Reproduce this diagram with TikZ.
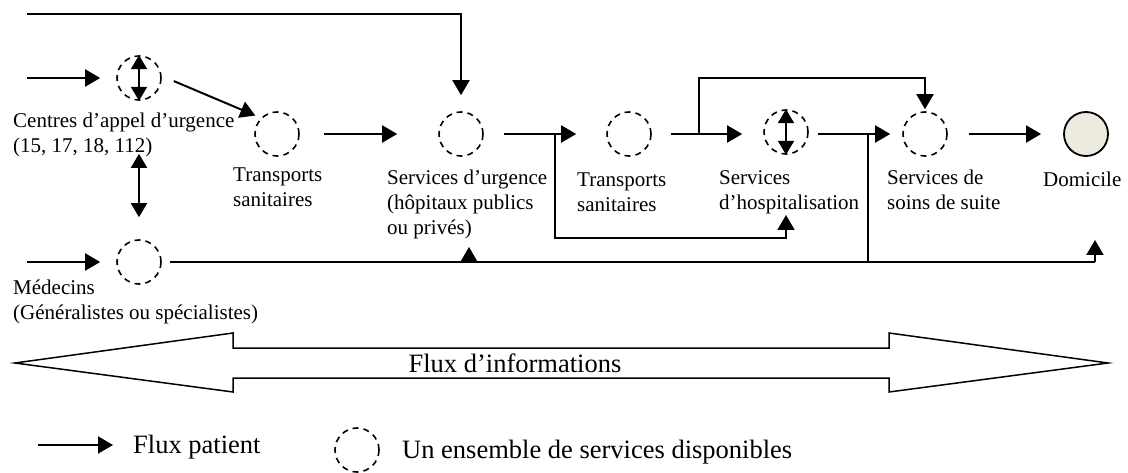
\documentclass[tikz,border=0pt]{standalone}
\usepackage{fontspec}
\setmainfont{Liberation Serif}
\usetikzlibrary{arrows.meta}

\definecolor{domfill}{RGB}{237,234,224}
\newcommand{\lblfont}{\fontsize{21}{25}\selectfont}
\newcommand{\bigfont}{\fontsize{26.5}{32}\selectfont}

\tikzset{
  svc/.style={circle, draw, line width=1.6pt, dash pattern=on 6pt off 5pt, minimum size=44pt, inner sep=0pt},
  home/.style={circle, draw, line width=1.8pt, fill=domfill, minimum size=44pt, inner sep=0pt},
  lien/.style={line width=2pt},
  flux/.style={lien, -{Triangle[length=15pt,width=17pt]}},
  dflux/.style={lien, {Triangle[length=14pt,width=16pt]}-{Triangle[length=14pt,width=16pt]}},
  lbl/.style={anchor=north west, align=left, inner sep=0pt, font=\lblfont}
}

\begin{document}
\begin{tikzpicture}[x=1pt,y=-1pt]
  \useasboundingbox (0,0) rectangle (1128,473);

  % services
  \node[svc] (c1) at (139,78) {};
  \node[svc] (c2) at (277,134) {};
  \node[svc] (c3) at (461,134) {};
  \node[svc] (c4) at (629,134) {};
  \node[svc] (c5) at (786,132) {};
  \node[svc] (c6) at (925,134) {};
  \node[home] (dom) at (1086,134) {};
  \node[svc] (c7) at (139,262) {};

  % labels
  \node[lbl] (l1) at (13,113) {Centres d'appel d'urgence\\(15, 17, 18, 112)};
  \node[lbl] (l2) at (233,168) {Transports\\sanitaires};
  \node[lbl] (l3) at (387,170) {Services d'urgence\\(hôpitaux publics\\ou privés)};
  \node[lbl] (l4) at (577,173) {Transports\\sanitaires};
  \node[lbl] (l5) at (719,170) {Services\\d'hospitalisation};
  \node[lbl] (l6) at (887,170) {Services de\\soins de suite};
  \node[lbl] (l7) at (1043,172) {Domicile};
  \node[lbl] (l8) at (13,280) {Médecins\\(Généralistes ou spécialistes)};

  % points libres
  \coordinate (in1) at (27,14);
  \coordinate (in2) at (27,78);
  \coordinate (in3) at (27,262);
  \coordinate (j1) at (555,134);
  \coordinate (b1) at (555,238);
  \coordinate (hosp) at (786,215);
  \coordinate (j2) at (699,134);
  \coordinate (t2) at (699,78);
  \coordinate (j3) at (868,134);
  \coordinate (bot1) at (469,262);
  \coordinate (bot2) at (1095,262);

  % flux patient
  \draw[flux, shorten >=16pt] (in1) -| (c3.north);
  \draw[flux, shorten >=16pt] (in2) -- (c1);
  \draw[dflux] (c1.north) -- (c1.south);
  \draw[flux, shorten <=13pt, shorten >=6pt] ([yshift=2pt]c1.east) -- (c2.135);
  \draw[dflux, shorten <=53pt, shorten >=22pt] (c1.south) -- (c7.north);
  \draw[flux, shorten >=16pt] (in3) -- (c7);
  \draw[flux, shorten <=24pt, shorten >=41pt] (c2) -- (c3);
  \draw[flux, shorten <=20pt, shorten >=30pt] (c3) -- (c4);
  \draw[flux] (j1) -- (b1) -| (hosp);
  \draw[flux, shorten <=19pt, shorten >=21pt] (c4) -- (c5.west |- c4);
  \draw[flux, shorten >=2pt] (j2) -- (t2) -| (c6.north);
  \draw[dflux] (c5.north) -- (c5.south);
  \draw[flux, shorten <=9pt, shorten >=12pt] (c5.east |- c6) -- (c6);
  \draw[flux, shorten <=21pt, shorten >=22pt] (c6) -- (dom);

  % ligne des medecins
  \draw[lien, shorten <=8pt] (c7) -- (bot2);
  \draw[lien] (j3) -- (j3 |- bot2);
  \draw[flux] (bot1) -- ++(0,-15);
  \draw[flux] (bot2) -- ++(0,-22);

  % flux d'informations
  \draw[line width=1.5pt, line join=miter] (15,363) -- (233,333) -- (233,348) -- (889,348) -- (889,333)
    -- (1108,363) -- (889,392) -- (889,378) -- (233,378) -- (233,392) -- cycle;
  \node[font=\bigfont, inner sep=0pt] (info) at (515,363) {Flux d'informations};

  % legende
  \coordinate (lg1) at (38,445);
  \draw[flux] (lg1) -- ++(75,0) coordinate (lg2);
  \node[font=\bigfont, anchor=west, inner sep=0pt] (lgt1) at (133,447) {Flux patient};
  \node[svc] (lgc) at (357,450) {};
  \node[font=\bigfont, anchor=west, inner sep=0pt] (lgt2) at (402,452) {Un ensemble de services disponibles};
\end{tikzpicture}
\end{document}
